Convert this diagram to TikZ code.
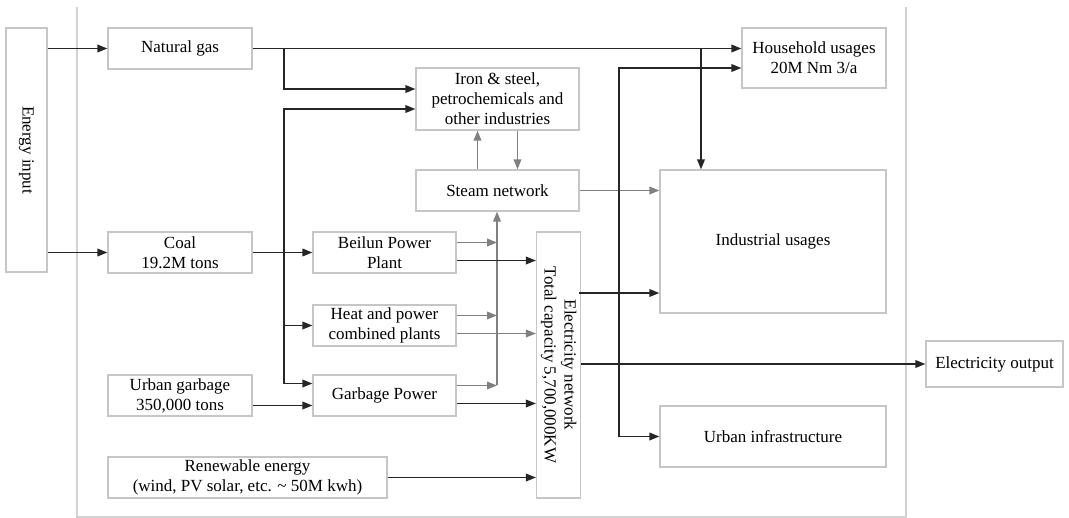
\documentclass[tikz,border=0pt]{standalone}
\usepackage{fontspec}
\setmainfont{Liberation Serif}
\usepackage{graphicx}
\usetikzlibrary{arrows.meta}

\begin{document}
\begin{tikzpicture}[
  x=0.5pt, y=-0.5pt,
  font=\rmfamily\fontsize{8.5}{10}\selectfont,
  box/.style  ={draw=gray!45, line width=0.6pt, align=center,
                inner sep=1pt, minimum height=20.5pt},
  flow/.style ={-{Triangle[length=5pt,width=3.8pt]}, line width=0.8pt, black!85},
  gflow/.style={-{Triangle[length=5pt,width=3.8pt]}, line width=0.8pt, gray},
  frame/.style={draw=gray!35, line width=0.6pt}
]
\useasboundingbox (0,0) rectangle (1069,518);

% ---------- Frame ----------
\draw[frame] (77,7) -- (77,517) -- (906,517) -- (906,7);

% ---------- Inputs ----------
\node[box, minimum width=20.5pt, minimum height=122pt] (input) at (26.5,150)
  {\rotatebox{-90}{Energy input}};
\node[box, minimum width=72pt] (gas)   at (180,48.5)  {Natural gas};
\node[box, minimum width=72pt] (coal)  at (180,252.5) {Coal\\19.2M tons};
\node[box, minimum width=72pt] (ugarb) at (180,395.5) {Urban garbage\\350,000 tons};
\node[box, minimum width=139.5pt] (renew) at (247.5,477.5)
  {Renewable energy\\(wind, PV solar, etc. \textasciitilde{} 50M kwh)};

% ---------- Plants ----------
\node[box, minimum width=71.5pt] (beilun) at (384.5,252.5) {Beilun Power\\Plant};
\node[box, minimum width=71.5pt] (chp)    at (384.5,325.5) {Heat and power\\combined plants};
\node[box, minimum width=71.5pt] (gpower) at (384.5,395.5) {Garbage Power};

% ---------- Networks ----------
\node[box, minimum width=81.5pt, minimum height=31pt] (iron) at (497.5,99)
  {Iron \& steel,\\petrochemicals and\\other industries};
\node[box, minimum width=81.5pt] (steam) at (497.5,190.5) {Steam network};
\node[box, minimum width=20.5pt, minimum height=133pt] (elec) at (558.5,365)
  {\rotatebox{-90}{\begin{tabular}{@{}c@{}}Electricity network\\Total capacity 5,700,000KW\end{tabular}}};

% ---------- Usages ----------
\node[box, minimum width=72pt, minimum height=30pt] (house) at (814,58)
  {Household usages\\20M Nm 3/a};
\node[box, minimum width=113pt, minimum height=71.5pt] (indus) at (773,241.5) {Industrial usages};
\node[box, minimum width=113pt, minimum height=30.5pt] (infra) at (773,436.5) {Urban infrastructure};
\node[box, minimum width=68.5pt, minimum height=23pt] (output) at (994.5,364) {Electricity output};

% ---------- Junctions ----------
\coordinate (gasbr)  at (284,48.5);
\coordinate (gasdrop) at (701,48.5);
\coordinate (cbus)   at (284,252.5);
\coordinate (sbus)   at (497,385);
\coordinate (eind)   at (579,293);
\coordinate (ebus)   at (619,364);

% ---------- Arrows ----------
\draw[flow] (input.east |- gas)  -- (gas.west);
\draw[flow] (input.east |- coal) -- (coal.west);

\draw[flow] (gas.east) -- (house.west |- gas.east);
\draw[flow] (gasdrop)  -- (gasdrop |- indus.north);
\draw[flow] (gasbr)    |- ([yshift=5pt]iron.west);

\draw[flow] (coal.east) -- (beilun.west);
\draw[flow] (cbus) |- ([yshift=-5pt]iron.west);
\draw[flow] (cbus) |- ([yshift=6pt]gpower.west);
\draw[flow] (cbus |- chp) -- (chp.west);
\draw[flow] ([yshift=-5pt]ugarb.east) -- ([yshift=-5pt]gpower.west);

\draw[gflow] ([xshift=-10pt]steam.north) -- ([xshift=-10pt]iron.south);
\draw[gflow] ([xshift=10pt]iron.south)   -- ([xshift=10pt]steam.north);
\draw[gflow] (steam.east) -- (indus.west |- steam.east);
\draw[gflow] (sbus) -- (sbus |- steam.south);
\draw[gflow] ([yshift=5pt]beilun.east) -- ([yshift=5pt]beilun.east -| sbus);
\draw[gflow] ([yshift=5pt]chp.east)    -- ([yshift=5pt]chp.east -| sbus);
\draw[gflow] ([yshift=5pt]gpower.east) -- ([yshift=5pt]gpower.east -| sbus);

\draw[flow]  ([yshift=-4pt]beilun.east) -- ([yshift=-4pt]beilun.east -| elec.west);
\draw[gflow] ([yshift=-4pt]chp.east)    -- ([yshift=-4pt]chp.east -| elec.west);
\draw[flow]  ([yshift=-4pt]gpower.east) -- ([yshift=-4pt]gpower.east -| elec.west);
\draw[flow]  (renew.east) -- (renew.east -| elec.west);

\draw[flow] (eind) -- (eind -| indus.west);
\draw[flow] (elec.east |- output) -- (output.west);
\draw[flow] (ebus) |- ([yshift=-5pt]house.west);
\draw[flow] (ebus) |- (infra.west);

\end{tikzpicture}
\end{document}
